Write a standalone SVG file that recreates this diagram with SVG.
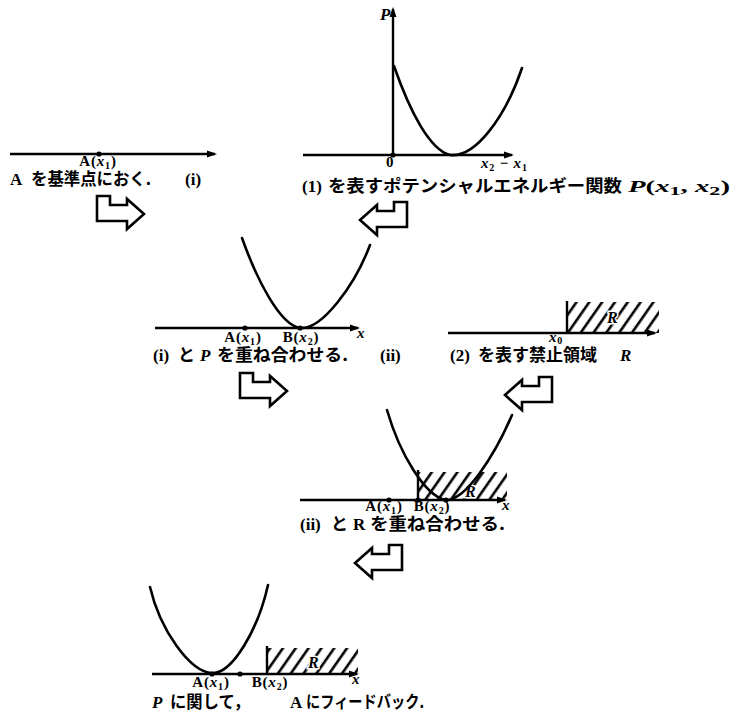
<svg xmlns="http://www.w3.org/2000/svg" width="734" height="716" viewBox="0 0 734 716">
<defs>
<style>
.ax{stroke:#000;stroke-width:2.4;fill:none;marker-end:url(#ah)}
.bd{stroke:#000;stroke-width:2.4;fill:none}
.cv{stroke:#000;stroke-width:2.6;fill:none;stroke-linecap:round}
.dot{fill:#000}
.cap{font-family:"Liberation Serif","Noto Sans CJK JP",serif;font-weight:bold;font-size:17px;fill:#000}
.jp{font-family:"Noto Sans CJK JP","Liberation Sans",sans-serif;font-weight:bold;font-size:17px;fill:#000}
.lab{font-family:"Liberation Serif",serif;font-size:15px;font-weight:bold;letter-spacing:0.8px;fill:#000}
.it{font-style:italic}
.sb{font-size:10px;font-style:normal}
.rl{font-family:"Liberation Serif",serif;font-style:italic;font-weight:bold;font-size:16px;fill:#000;stroke:#fff;stroke-width:3;paint-order:stroke}
.flow{fill:#fff;stroke:#000;stroke-width:2.6;stroke-linejoin:miter}
.hz{fill:url(#hatch)}
</style>
<marker id="ah" markerWidth="10" markerHeight="8" refX="8" refY="4" orient="auto" markerUnits="userSpaceOnUse">
<path d="M0,0.5 L10,4 L0,7.5 z" fill="#000"/>
</marker>
<pattern id="hatch" width="10.5" height="10" patternUnits="userSpaceOnUse" patternTransform="rotate(35)">
<line x1="5" y1="-1" x2="5" y2="11" stroke="#000" stroke-width="2.6"/>
</pattern>
<!-- bent flow arrow, pointing right; mirrored for left-pointing ones -->
<path id="bend" d="M0,0 H13 V9 H30 V3 L47,18 L30,33 V25 H0 Z"/>
</defs>
<rect width="734" height="716" fill="#fff"/>

<!-- (i) reference point A on the axis -->
<g id="n1">
<line class="ax" x1="10" y1="154" x2="215" y2="154"/>
<circle class="dot" cx="99" cy="154" r="2.6"/>
<text class="lab" x="98" y="166" text-anchor="middle">A(<tspan class="it">x</tspan><tspan class="sb" baseline-shift="-3">1</tspan>)</text>
<text class="cap" x="10" y="185">A</text>
<text class="jp" x="31" y="185" font-size="16" textLength="120" lengthAdjust="spacingAndGlyphs">を基準点におく.</text>
<text class="cap" x="185" y="185">(i)</text>
</g>

<!-- (1) potential energy function -->
<g id="n2">
<line class="ax" x1="303" y1="155" x2="512" y2="155"/>
<line class="ax" x1="393" y1="157" x2="393" y2="9"/>
<circle class="dot" cx="393" cy="155" r="2.6"/>
<text class="cap it" x="380" y="20" font-size="18">P</text>
<text class="lab" x="386" y="167" font-size="13">0</text>
<text class="lab it" x="481" y="168">x<tspan class="sb" baseline-shift="-3">2</tspan><tspan font-style="normal"> − </tspan>x<tspan class="sb" baseline-shift="-3">1</tspan></text>
<path class="cv" d="M394,66 C410,112 430,150 450,155 C475,158 505,118 522,68"/>
<text class="cap" x="302" y="192" font-size="18">(1)</text>
<text class="jp" x="328" y="192" font-size="18" textLength="294" lengthAdjust="spacingAndGlyphs">を表すポテンシャルエネルギー関数</text>
<text class="cap" x="628" y="192" font-size="20" textLength="102" lengthAdjust="spacingAndGlyphs"><tspan class="it">P</tspan>(<tspan class="it">x</tspan><tspan font-size="13" baseline-shift="-3">1</tspan>, <tspan class="it">x</tspan><tspan font-size="13" baseline-shift="-3">2</tspan>)</text>
</g>

<!-- (ii) (i) overlaid with P -->
<g id="n3">
<line class="ax" x1="155" y1="328" x2="358" y2="328"/>
<path class="cv" d="M242,238 C257,280 280,325 300,328 C322,330 355,285 370,245"/>
<circle class="dot" cx="245" cy="328" r="2.6"/>
<circle class="dot" cx="300" cy="328" r="2.6"/>
<text class="lab it" x="357" y="338" font-size="12">x</text>
<text class="lab" x="243" y="342" text-anchor="middle">A(<tspan class="it">x</tspan><tspan class="sb" baseline-shift="-3">1</tspan>)</text>
<text class="lab" x="301" y="342" text-anchor="middle">B(<tspan class="it">x</tspan><tspan class="sb" baseline-shift="-3">2</tspan>)</text>
<text class="cap" x="153" y="361">(i)</text>
<text class="jp" x="178" y="361">と</text>
<text class="cap it" x="200" y="361">P</text>
<text class="jp" x="217" y="361" textLength="131" lengthAdjust="spacingAndGlyphs">を重ね合わせる.</text>
<text class="cap" x="380" y="361">(ii)</text>
</g>

<!-- (2) forbidden region R -->
<g id="n4">
<rect class="hz" x="567" y="302" width="92" height="31"/>
<line class="bd" x1="567" y1="301" x2="567" y2="334"/>
<line class="ax" x1="448" y1="333" x2="655" y2="333"/>
<text class="rl" x="607" y="323">R</text>
<text class="lab it" x="549" y="342" font-size="12">x<tspan class="sb" font-size="9" baseline-shift="-2">0</tspan></text>
<text class="cap" x="450" y="361">(2)</text>
<text class="jp" x="478" y="361" textLength="119" lengthAdjust="spacingAndGlyphs">を表す禁止領域</text>
<text class="cap it" x="620" y="361">R</text>
</g>

<!-- (ii) overlaid with R -->
<g id="n5">
<rect class="hz" x="418" y="472" width="89" height="28"/>
<line class="bd" x1="418" y1="470" x2="418" y2="501"/>
<text class="rl" x="465" y="497" font-size="15">R</text>
<line class="ax" x1="300" y1="500" x2="505" y2="500"/>
<path class="cv" d="M387,410 C400,455 425,495 445,500 C465,502 495,455 512,415"/>
<circle class="dot" cx="389" cy="500" r="2.6"/>
<circle class="dot" cx="418" cy="500" r="2.6"/>
<circle class="dot" cx="446" cy="500" r="2.6"/>
<text class="lab it" x="502" y="510" font-size="12">x</text>
<text class="lab" x="384" y="511" text-anchor="middle">A(<tspan class="it">x</tspan><tspan class="sb" baseline-shift="-3">1</tspan>)</text>
<text class="lab" x="432" y="511" text-anchor="middle">B(<tspan class="it">x</tspan><tspan class="sb" baseline-shift="-3">2</tspan>)</text>
<text class="cap" x="300" y="530">(ii)</text>
<text class="jp" x="331" y="530">と</text>
<text class="cap" x="353" y="530">R</text>
<text class="jp" x="370" y="530" textLength="135" lengthAdjust="spacingAndGlyphs">を重ね合わせる.</text>
</g>

<!-- feedback to A with respect to P -->
<g id="n6">
<rect class="hz" x="267" y="648" width="91" height="26"/>
<line class="bd" x1="267" y1="646" x2="267" y2="675"/>
<text class="rl" x="308" y="668" font-size="15">R</text>
<line class="ax" x1="152" y1="674" x2="357" y2="674"/>
<path class="cv" d="M150,587 C160,630 190,672 212,673 C232,674 258,630 268,585"/>
<circle class="dot" cx="212" cy="674" r="2.6"/>
<circle class="dot" cx="240" cy="674" r="2.6"/>
<text class="lab it" x="352" y="684" font-size="12">x</text>
<text class="lab" x="211" y="687" text-anchor="middle">A(<tspan class="it">x</tspan><tspan class="sb" baseline-shift="-3">1</tspan>)</text>
<text class="lab" x="270" y="687" text-anchor="middle">B(<tspan class="it">x</tspan><tspan class="sb" baseline-shift="-3">2</tspan>)</text>
<text class="cap it" x="152" y="708">P</text>
<text class="jp" x="170" y="708" font-size="16" textLength="80" lengthAdjust="spacingAndGlyphs">に関して，</text>
<text class="cap" x="290" y="708">A</text>
<text class="jp" x="306" y="708" font-size="16" textLength="118" lengthAdjust="spacingAndGlyphs">にフィードバック.</text>
</g>

<!-- flow arrows between stages -->
<g id="connectors">
<use href="#bend" class="flow" transform="translate(97,196)"/>
<use href="#bend" class="flow" transform="translate(407,202) scale(-1,1)"/>
<use href="#bend" class="flow" transform="translate(240,373)"/>
<use href="#bend" class="flow" transform="translate(552,377) scale(-1,1)"/>
<use href="#bend" class="flow" transform="translate(402,545) scale(-1,1)"/>
</g>
</svg>
